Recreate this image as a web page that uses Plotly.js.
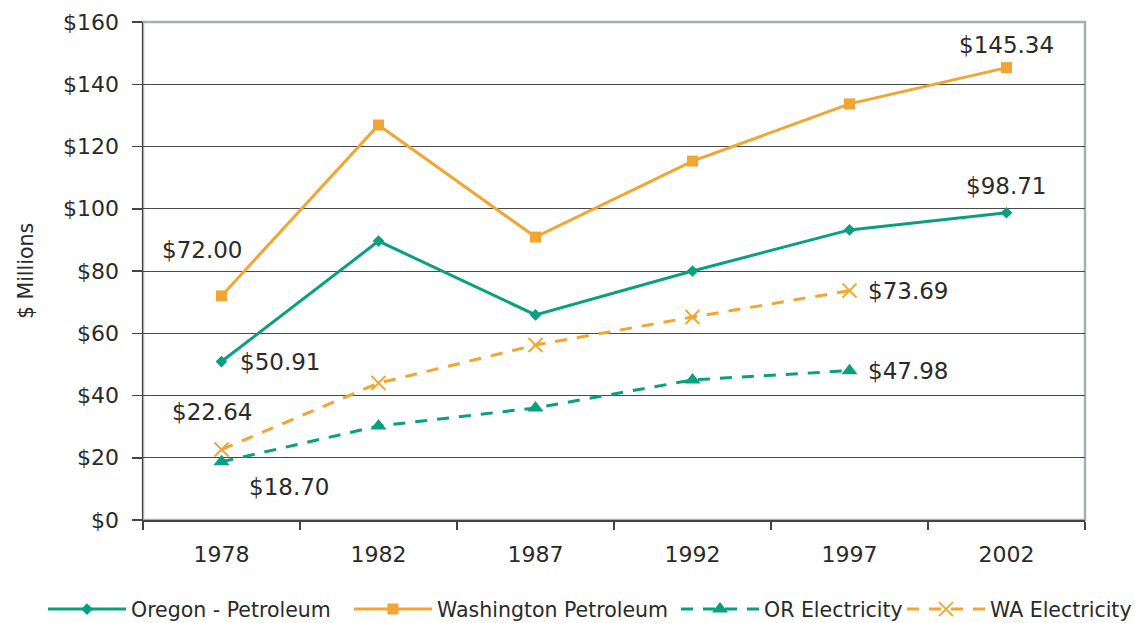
<!DOCTYPE html>
<html>
<head>
<meta charset="utf-8">
<script src="https://cdn.plot.ly/plotly-3.0.1.min.js"></script>
<style>html,body{margin:0;padding:0;background:#fff}#chart{width:1135px;height:623px}</style>
</head>
<body>
<div id="chart"></div>
<script>
const years = ['1978', '1982', '1987', '1992', '1997', '2002'];
const orPetroleum = [50.91, 89.6, 65.9, 80.0, 93.2, 98.71];
const waPetroleum = [72.00, 126.9, 90.9, 115.3, 133.7, 145.34];
const orElectricity = [18.70, 30.2, 36.0, 45.0, 47.98, null];
const waElectricity = [22.64, 44.0, 56.2, 65.2, 73.69, null];
const yTicks = [0, 20, 40, 60, 80, 100, 120, 140, 160];
const yTickLabels = yTicks.map(v => '$' + v);

const green = '#08A07E';
const orange = '#F2A531';
const textColor = '#2a2a2a';
const font = '"DejaVu Sans", "Liberation Sans", sans-serif';

const traces = [
  {x: years, y: orPetroleum, name: 'Oregon - Petroleum', type: 'scatter', mode: 'lines+markers', legend: 'legend',
   line: {color: green, width: 3}, marker: {symbol: 'diamond', size: 9, color: green}},
  {x: years, y: waPetroleum, name: 'Washington Petroleum', type: 'scatter', mode: 'lines+markers', legend: 'legend2',
   line: {color: orange, width: 3}, marker: {symbol: 'square', size: 11, color: orange}},
  {x: years, y: orElectricity, name: 'OR Electricity', type: 'scatter', mode: 'lines+markers', legend: 'legend3',
   line: {color: green, width: 3, dash: '12px,10px'}, marker: {symbol: 'triangle-up', size: 14, color: green}},
  {x: years, y: waElectricity, name: 'WA Electricity', type: 'scatter', mode: 'lines+markers', legend: 'legend4',
   line: {color: orange, width: 3, dash: '12px,10px'}, marker: {symbol: 'x-thin-open', size: 14, color: orange, line: {color: orange, width: 2}}}
];

// label for point i of a series (x given as category index)
function lab(series, i, dx, dy) {
  return {x: i, y: series[i], xref: 'x', yref: 'y', text: '$' + series[i].toFixed(2),
    showarrow: false, xshift: dx, yshift: dy, font: {family: font, size: 23, color: textColor}};
}

const annotations = [
  lab(waPetroleum, 0, -20, 46),
  lab(orPetroleum, 0, 58, 0),
  lab(waElectricity, 0, -10, 38),
  lab(orElectricity, 0, 67, -25),
  lab(waPetroleum, 5, 0, 23),
  lab(orPetroleum, 5, -1, 27),
  lab(waElectricity, 4, 58, 0),
  lab(orElectricity, 4, 58, 0)
];

function legendAt(px) {
  return {orientation: 'h', xref: 'container', yref: 'container', x: px / 1135, y: 0.022,
          xanchor: 'left', yanchor: 'middle', font: {family: font, size: 20.5, color: textColor},
          itemwidth: 78, bgcolor: 'rgba(0,0,0,0)', borderwidth: 0};
}

const layout = {
  width: 1135, height: 623,
  margin: {l: 143, r: 50, t: 22, b: 103},
  paper_bgcolor: '#fff', plot_bgcolor: '#fff',
  font: {family: font, size: 20, color: textColor},
  showlegend: true,
  legend: legendAt(43),
  legend2: legendAt(349),
  legend3: legendAt(676),
  legend4: legendAt(902),
  xaxis: {type: 'category', range: [-0.5, 5.5], tickson: 'boundaries', ticks: 'outside', ticklen: 8,
          tickcolor: '#444', tickwidth: 1.5, showline: true, linecolor: '#444', linewidth: 1.5,
          showgrid: false, zeroline: false, ticklabelstandoff: 14,
          tickfont: {family: font, size: 22, color: textColor}},
  yaxis: {range: [0, 160], tickvals: yTicks, ticktext: yTickLabels, ticks: 'outside', ticklen: 10,
          tickcolor: '#444', tickwidth: 1.5, showline: true, linecolor: '#444', linewidth: 1.5,
          showgrid: true, gridcolor: '#4a4a4a', gridwidth: 1, zeroline: false, ticklabelstandoff: 8,
          tickfont: {family: font, size: 22, color: textColor},
          title: {text: '$ Millions', font: {family: font, size: 20.5, color: textColor}, standoff: 24}},
  shapes: [{type: 'rect', xref: 'paper', yref: 'paper', x0: 0, x1: 1, y0: 0, y1: 1,
            line: {color: '#a9aeb3', width: 2.5}, layer: 'below'}],
  annotations: annotations
};

Plotly.newPlot('chart', traces, layout, {displayModeBar: false, staticPlot: true});
</script>
</body>
</html>
